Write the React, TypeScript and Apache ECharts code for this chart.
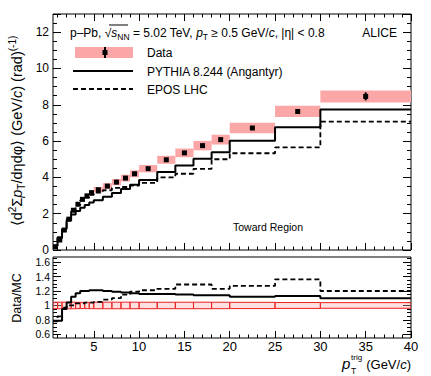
import React, { useEffect, useRef } from 'react';
import * as echarts from 'echarts';

// ---- data ----
const binLo = [0.5, 1, 1.5, 2, 2.5, 3, 3.5, 4, 4.5, 5, 6, 7, 8, 9, 10, 12, 14, 16, 18, 20, 25, 30];
const binHi = [1, 1.5, 2, 2.5, 3, 3.5, 4, 4.5, 5, 6, 7, 8, 9, 10, 12, 14, 16, 18, 20, 25, 30, 40];
const dataVal = [0.18, 0.55, 1.1, 1.7, 2.19, 2.52, 2.79, 2.98, 3.16, 3.32, 3.52, 3.74, 3.96, 4.2, 4.48, 4.97, 5.35, 5.75, 6.08, 6.72, 7.63, 8.46];
const dataStat = [0.01, 0.01, 0.01, 0.01, 0.01, 0.01, 0.01, 0.01, 0.01, 0.01, 0.02, 0.02, 0.02, 0.03, 0.03, 0.04, 0.05, 0.06, 0.07, 0.08, 0.12, 0.22];
const dataSys = [0.008, 0.025, 0.05, 0.08, 0.1, 0.11, 0.12, 0.13, 0.14, 0.15, 0.16, 0.17, 0.18, 0.19, 0.2, 0.22, 0.24, 0.26, 0.27, 0.29, 0.31, 0.33];
const pythiaVal = [0.23, 0.7, 1.16, 1.63, 1.96, 2.15, 2.33, 2.48, 2.61, 2.74, 2.93, 3.14, 3.36, 3.59, 3.86, 4.29, 4.66, 5.03, 5.38, 6.02, 6.76, 7.74];
const eposVal = [0.23, 0.65, 1.13, 1.7, 2.19, 2.47, 2.74, 2.89, 3.04, 3.16, 3.29, 3.42, 3.47, 3.55, 3.7, 4.0, 4.2, 4.47, 5.0, 5.33, 5.65, 7.07];
const ratioPythia = [0.79, 0.79, 0.95, 1.04, 1.12, 1.17, 1.2, 1.2, 1.21, 1.21, 1.2, 1.19, 1.18, 1.17, 1.16, 1.16, 1.15, 1.14, 1.14, 1.12, 1.13, 1.1];
const ratioEpos = [0.78, 0.85, 0.97, 1.0, 1.0, 1.03, 1.03, 1.04, 1.04, 1.05, 1.08, 1.1, 1.15, 1.19, 1.21, 1.23, 1.29, 1.29, 1.23, 1.27, 1.36, 1.2];

const xTickLabels = [5, 10, 15, 20, 25, 30, 35, 40];
const ratioTickLabels = [0.6, 0.8, 1.0, 1.2, 1.4, 1.6];

const FONT = "'Liberation Sans', Arial, Helvetica, sans-serif";
const PINK = '#fba7a7';

const xMinor: number[] = [];
for (let v = 1; v <= 40; v++) if (v % 5 !== 0) xMinor.push(v);
const rMinor: number[] = [];
for (let k = 12; k <= 33; k++) { if (k % 4 !== 0) rMinor.push(k * 0.05); }

function hist(vals: number[]) {
  const out: number[][] = [];
  vals.forEach((v, i) => { out.push([binLo[i], v]); out.push([binHi[i], v]); });
  return out;
}

export default function App() {
  const ref = useRef<HTMLDivElement>(null);
  useEffect(() => {
    if (!ref.current) return;
    const chart = echarts.init(ref.current, undefined, { renderer: 'svg' });

    const xAx = (gridIndex: number, position: string, ticks: number[], len: number, labels: boolean) => ({
      type: 'value', gridIndex, position, min: 0.5, max: 40,
      axisLine: { show: false },
      axisTick: { show: true, inside: true, length: len, customValues: ticks, lineStyle: { color: '#000', width: 1 } },
      axisLabel: labels
        ? { show: true, customValues: ticks, color: '#000', fontSize: 13, fontFamily: FONT, margin: 2, lineHeight: 12 }
        : { show: false },
      splitLine: { show: false },
    });
    const yUp = (position: string, labels: boolean) => ({
      type: 'value', gridIndex: 0, position, min: 0, max: 13, interval: 2,
      axisLine: { show: false },
      axisTick: { show: true, inside: true, length: 8, lineStyle: { color: '#000' } },
      minorTick: { show: true, splitNumber: 4, length: 4, lineStyle: { color: '#000' } },
      axisLabel: labels ? { show: true, color: '#000', fontSize: 12, fontFamily: FONT, margin: 4, lineHeight: 10,
        padding: [0, 0, 3, 0], showMaxLabel: false } : { show: false },
      splitLine: { show: false },
    });
    const yLow = (position: string, ticks: number[], len: number, labels: boolean) => ({
      type: 'value', gridIndex: 1, position, min: 0.55, max: 1.67,
      axisLine: { show: false },
      axisTick: { show: true, inside: true, length: len, customValues: ticks, lineStyle: { color: '#000' } },
      axisLabel: labels
        ? { show: true, customValues: ticks, color: '#000', fontSize: 10.5, fontFamily: FONT, margin: 3, lineHeight: 9,
            formatter: (v: number) => String(+v.toFixed(1)) }
        : { show: false },
      splitLine: { show: false },
    });

    const sysBoxes = dataVal.map((v, i) => [binLo[i], binHi[i], v, dataSys[i]]);
    const points = dataVal.map((v, i) => [(binLo[i] + binHi[i]) / 2, v, dataStat[i]]);
    const ratioBoxes = dataVal.map((v, i) => [binLo[i], binHi[i], 1, dataSys[i] / v]);

    const option: any = {
      animation: false,
      backgroundColor: '#fff',
      grid: [
        { left: 53, top: 14, width: 358, height: 236, show: true, borderColor: '#000', borderWidth: 1, backgroundColor: 'transparent' },
        { left: 53, top: 257, width: 358, height: 81, show: true, borderColor: '#000', borderWidth: 1, backgroundColor: 'transparent' },
      ],
      xAxis: [
        xAx(0, 'bottom', xTickLabels, 7, false),
        xAx(0, 'bottom', xMinor, 3.5, false),
        xAx(0, 'top', xTickLabels, 7, false),
        xAx(0, 'top', xMinor, 3.5, false),
        xAx(1, 'bottom', xTickLabels, 7, true),
        xAx(1, 'bottom', xMinor, 3.5, false),
      ],
      yAxis: [
        yUp('left', true),
        yUp('right', false),
        yLow('left', ratioTickLabels, 8, true),
        yLow('left', rMinor, 4, false),
        yLow('right', ratioTickLabels, 8, false),
        yLow('right', rMinor, 4, false),
      ],
      series: [
        {
          type: 'custom', xAxisIndex: 0, yAxisIndex: 0, data: sysBoxes, clip: true,
          encode: { x: [0, 1], y: 2 },
          renderItem: (p: any, api: any) => {
            const a = api.coord([api.value(0), api.value(2) + api.value(3)]);
            const b = api.coord([api.value(1), api.value(2) - api.value(3)]);
            return { type: 'rect', shape: { x: a[0], y: a[1], width: b[0] - a[0], height: b[1] - a[1] }, style: { fill: PINK } };
          },
        },
        {
          type: 'line', xAxisIndex: 0, yAxisIndex: 0, data: hist(pythiaVal), symbol: 'none', clip: true,
          lineStyle: { color: '#000', width: 2 },
        },
        {
          type: 'line', xAxisIndex: 0, yAxisIndex: 0, data: hist(eposVal), symbol: 'none', clip: true,
          lineStyle: { color: '#000', width: 1.8, type: [5, 3] },
        },
        {
          type: 'custom', xAxisIndex: 0, yAxisIndex: 0, data: points, clip: true,
          encode: { x: 0, y: 1 },
          renderItem: (p: any, api: any) => {
            const c = api.coord([api.value(0), api.value(1)]);
            const t = api.coord([api.value(0), api.value(1) + api.value(2)]);
            const b = api.coord([api.value(0), api.value(1) - api.value(2)]);
            return {
              type: 'group', children: [
                { type: 'line', shape: { x1: c[0], y1: t[1], x2: c[0], y2: b[1] }, style: { stroke: '#000', lineWidth: 2 } },
                { type: 'rect', shape: { x: c[0] - 2.5, y: c[1] - 2.5, width: 5, height: 5 }, style: { fill: '#000' } },
              ],
            };
          },
        },
        {
          type: 'custom', xAxisIndex: 4, yAxisIndex: 2, data: ratioBoxes, clip: true,
          encode: { x: [0, 1], y: 2 },
          renderItem: (p: any, api: any) => {
            const a = api.coord([api.value(0), api.value(2) + api.value(3)]);
            const b = api.coord([api.value(1), api.value(2) - api.value(3)]);
            return { type: 'rect', shape: { x: a[0], y: a[1], width: b[0] - a[0], height: b[1] - a[1] },
              style: { fill: 'rgba(255,170,170,0.35)', stroke: '#ee2020', lineWidth: 1 } };
          },
        },
        {
          type: 'line', xAxisIndex: 4, yAxisIndex: 2, data: hist(ratioPythia), symbol: 'none', clip: true,
          lineStyle: { color: '#000', width: 2 },
        },
        {
          type: 'line', xAxisIndex: 4, yAxisIndex: 2, data: hist(ratioEpos), symbol: 'none', clip: true,
          lineStyle: { color: '#000', width: 1.8, type: [5, 3] },
        },
      ],
      graphic: [
        {
          type: 'text', x: 70, y: 33,
          style: {
            text: 'p–Pb, √{i|s}{sub|NN} = 5.02 TeV, {i|p}{sub|T} ≥ 0.5 GeV/{i|c}, |η| < 0.8',
            font: `12px ${FONT}`, fill: '#000', verticalAlign: 'middle',
            rich: {
              i: { fontStyle: 'italic', fontSize: 12, fontFamily: FONT, lineHeight: 16 },
              sub: { fontSize: 8.5, fontFamily: FONT, verticalAlign: 'bottom', lineHeight: 10 },
            },
          },
        },
        { type: 'line', shape: { x1: 109, y1: 25, x2: 128, y2: 25 }, style: { stroke: '#000', lineWidth: 1 } },
        { type: 'text', x: 397, y: 33, style: { text: 'ALICE', font: `12px ${FONT}`, fill: '#000', align: 'right', verticalAlign: 'middle' } },
        { type: 'rect', shape: { x: 75, y: 47, width: 58, height: 11 }, style: { fill: PINK } },
        { type: 'line', shape: { x1: 105, y1: 47, x2: 105, y2: 58 }, style: { stroke: '#000', lineWidth: 2 } },
        { type: 'rect', shape: { x: 102.5, y: 50, width: 5, height: 5 }, style: { fill: '#000' } },
        { type: 'text', x: 147, y: 53, style: { text: 'Data', font: `12px ${FONT}`, fill: '#000', verticalAlign: 'middle' } },
        { type: 'line', shape: { x1: 73, y1: 71, x2: 133, y2: 71 }, style: { stroke: '#000', lineWidth: 2 } },
        { type: 'text', x: 147, y: 71.5, style: { text: 'PYTHIA 8.244 (Angantyr)', font: `12px ${FONT}`, fill: '#000', verticalAlign: 'middle' } },
        { type: 'line', shape: { x1: 73, y1: 89, x2: 133, y2: 89 }, style: { stroke: '#000', lineWidth: 1.8, lineDash: [5, 3] } },
        { type: 'text', x: 147, y: 89.5, style: { text: 'EPOS LHC', font: `12px ${FONT}`, fill: '#000', verticalAlign: 'middle' } },
        { type: 'text', x: 233, y: 227, style: { text: 'Toward Region', font: `10.5px ${FONT}`, fill: '#000', verticalAlign: 'middle' } },
        {
          type: 'text', x: 17, y: 131, rotation: Math.PI / 2,
          style: {
            text: '⟨d{sup|2}Σ{i|p}{sub|T}/dηdφ⟩ (GeV/{i|c}) (rad){sup|(-1)}',
            font: `14.5px ${FONT}`, fill: '#000', align: 'center', verticalAlign: 'middle',
            rich: {
              i: { fontStyle: 'italic', fontSize: 14.5, fontFamily: FONT, lineHeight: 19 },
              sub: { fontSize: 10, fontFamily: FONT, verticalAlign: 'bottom', lineHeight: 10 },
              sup: { fontSize: 10, fontFamily: FONT, verticalAlign: 'top', lineHeight: 10 },
            },
          },
        },
        {
          type: 'text', x: 17, y: 298, rotation: Math.PI / 2,
          style: { text: 'Data/MC', font: `12.5px ${FONT}`, fill: '#000', align: 'center', verticalAlign: 'middle' },
        },
        { type: 'text', x: 411, y: 364, style: { text: '(GeV/{i|c})', font: `13px ${FONT}`, fill: '#000', align: 'right', verticalAlign: 'middle',
            rich: { i: { fontStyle: 'italic', fontSize: 13, fontFamily: FONT } } } },
        { type: 'text', x: 342, y: 363, style: { text: 'p', font: `italic 15px ${FONT}`, fill: '#000', verticalAlign: 'middle' } },
        { type: 'text', x: 351, y: 357, style: { text: 'trig', font: `8px ${FONT}`, fill: '#000', verticalAlign: 'middle' } },
        { type: 'text', x: 351, y: 371, style: { text: 'T', font: `8.5px ${FONT}`, fill: '#000', verticalAlign: 'middle' } },
      ],
    };
    chart.setOption(option);
    return () => chart.dispose();
  }, []);
  return <div ref={ref} style={{ position: 'fixed', left: 0, top: 0, width: 431, height: 376, background: '#fff' }} />;
}
